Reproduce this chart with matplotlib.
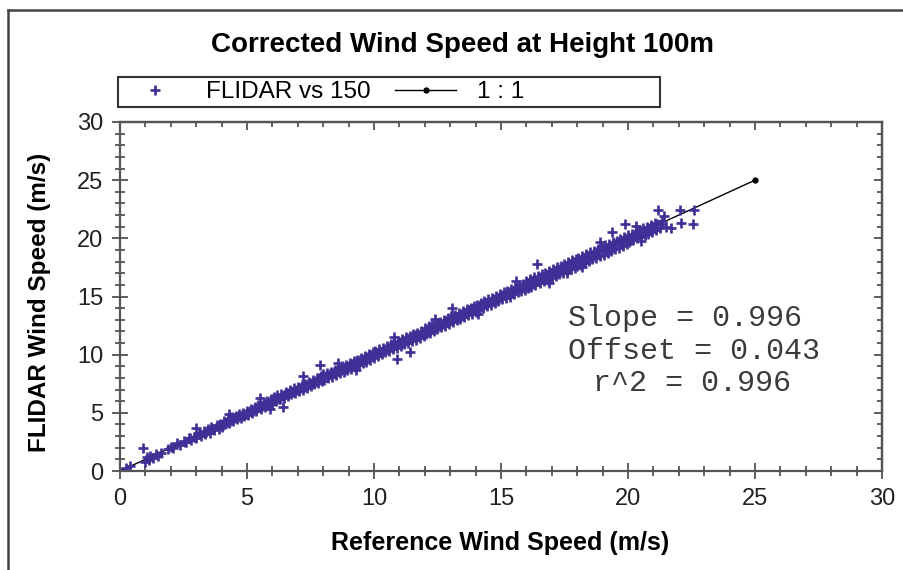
import matplotlib
matplotlib.use("Agg")
import matplotlib.pyplot as plt
from matplotlib.ticker import MultipleLocator, NullFormatter
from matplotlib.patches import Rectangle
from matplotlib.lines import Line2D

plt.rcParams['font.family'] = ['Liberation Sans', 'DejaVu Sans']

# reference (x) vs FLIDAR (y) wind speed
ref_speed = [
    0.25, 0.4, 0.9, 1.0, 1.05, 1.15, 1.2, 1.3, 1.4, 1.5, 1.6, 1.9, 2.0, 2.1,
    2.25, 2.35, 2.5, 2.6, 2.7, 2.8, 2.9, 3.0, 3.0, 3.1, 3.2, 3.3, 3.35, 3.45, 3.55, 3.6, 3.7, 3.8, 3.9, 3.95,
    4.0, 4.1, 4.15, 4.25, 4.3, 4.4, 4.45, 4.55, 4.6, 4.7, 4.75, 4.85, 4.9, 5.0, 5.05, 5.15, 5.2, 5.3, 5.35,
    5.45, 5.5, 5.55, 5.65, 5.7, 5.8, 5.85, 5.95,
    6.0, 6.05, 6.15, 6.2, 6.3, 6.35, 6.42, 6.45, 6.55, 6.6, 6.7, 6.75, 6.85, 6.9, 7.0, 7.05, 7.15, 7.2, 7.2,
    7.3, 7.35, 7.45, 7.5, 7.6, 7.65, 7.75, 7.8, 7.87, 7.9, 7.95,
    8.0, 8.05, 8.15, 8.2, 8.3, 8.35, 8.45, 8.5, 8.6, 8.65, 8.75, 8.8, 8.9, 8.95, 9.05, 9.1, 9.2, 9.25, 9.35,
    9.4, 9.5, 9.55, 9.65, 9.7, 9.8, 9.85, 9.95,
    10.0, 10.05, 10.15, 10.2, 10.3, 10.35, 10.45, 10.5, 10.6, 10.65, 10.75, 10.8, 10.9, 10.9, 10.95, 11.05,
    11.1, 11.2, 11.25, 11.35, 11.4, 11.4, 11.5, 11.55, 11.65, 11.7, 11.8, 11.85, 11.95,
    12.0, 12.05, 12.15, 12.2, 12.3, 12.35, 12.45, 12.5, 12.6, 12.65, 12.75, 12.8, 12.9, 12.95, 13.05, 13.07,
    13.1, 13.2, 13.25, 13.35, 13.4, 13.5, 13.55, 13.65, 13.7, 13.8, 13.85, 13.95,
    14.0, 14.05, 14.15, 14.2, 14.3, 14.35, 14.45, 14.5, 14.6, 14.65, 14.75, 14.8, 14.9, 14.95, 15.05, 15.1,
    15.2, 15.25, 15.35, 15.4, 15.5, 15.55, 15.65, 15.7, 15.8, 15.85, 15.95,
    16.0, 16.05, 16.15, 16.2, 16.3, 16.35, 16.4, 16.45, 16.55, 16.6, 16.7, 16.75, 16.85, 16.9, 17.0, 17.05,
    17.15, 17.2, 17.3, 17.35, 17.45, 17.5, 17.6, 17.65, 17.75, 17.8, 17.9, 17.95,
    18.0, 18.05, 18.15, 18.2, 18.3, 18.35, 18.45, 18.5, 18.6, 18.65, 18.75, 18.8, 18.9, 18.95, 19.05, 19.1,
    19.2, 19.25, 19.35, 19.37, 19.4, 19.5, 19.55, 19.65, 19.7, 19.8, 19.85, 19.9, 19.95,
    20.0, 20.05, 20.15, 20.2, 20.3, 20.35, 20.45, 20.5, 20.6, 20.65, 20.75, 20.8, 20.9, 20.95, 21.05, 21.1,
    21.2, 21.25, 21.35, 21.5, 21.7, 22.05, 22.1, 22.55, 22.6,
    # points near the middle of the band
    2.55, 2.75, 2.95, 3.15, 3.4, 3.65, 3.85, 4.05, 4.2, 4.35, 4.5, 4.65, 4.8, 4.95, 5.1, 5.25, 5.4, 5.6,
    5.75, 5.9, 6.1, 6.25, 6.4, 6.5, 6.65, 6.8, 6.95, 7.1, 7.25, 7.4, 7.55, 7.7, 7.85, 8.1, 8.25, 8.4,
    8.55, 8.7, 8.85, 9.0, 9.15, 9.3, 9.45, 9.6, 9.75, 9.9, 10.1, 10.25, 10.4, 10.55, 10.7, 10.85, 11.0,
    11.15, 11.3, 11.45, 11.6, 11.75, 11.9, 12.1, 12.25, 12.4, 12.55, 12.7, 12.85, 13.0, 13.15, 13.3,
    13.45, 13.6, 13.75, 13.9, 14.1, 14.25, 14.4, 14.55, 14.7, 14.85, 15.0, 15.15, 15.3, 15.45, 15.6,
    15.75, 15.9, 16.1, 16.25, 16.4, 16.5, 16.65, 16.8, 16.95, 17.1, 17.25, 17.4, 17.55, 17.7, 17.85,
    18.1, 18.25, 18.4, 18.55, 18.7, 18.85, 19.0, 19.15, 19.3, 19.45, 19.6, 19.75, 20.1, 20.25, 20.4,
    20.55, 20.7, 20.85, 21.0, 21.15, 21.3,
    # ragged edges
    4.3, 5.9, 8.6, 9.3, 10.8, 12.4, 14.1, 15.6, 16.9, 17.6, 18.2, 18.9, 20.3, 20.5, 21.4,
]
flidar_speed = [
    0.3, 0.45, 1.95, 0.8, 1.2, 0.95, 1.3, 1.1, 1.45, 1.25, 1.55, 1.85, 2.1, 1.95,
    2.4, 2.2, 2.6, 2.45, 2.85, 2.65, 2.95, 3.7, 2.85, 3.25, 3.0, 3.45, 3.15, 3.6, 3.3, 3.75, 3.5, 3.95, 3.65, 4.05,
    3.8, 4.3, 4.0, 4.45, 4.15, 4.6, 4.3, 4.75, 4.45, 4.9, 4.55, 5.0, 4.7, 5.2, 4.85, 5.35, 5.0, 5.5, 5.15,
    5.65, 6.3, 5.3, 5.85, 5.5, 6.0, 5.65, 6.15,
    5.8, 6.35, 6.0, 6.5, 6.15, 6.6, 5.5, 6.3, 6.8, 6.45, 6.95, 6.6, 7.1, 6.7, 7.25, 6.85, 7.4, 7.0, 8.2,
    7.5, 7.15, 7.65, 7.3, 7.85, 7.45, 8.0, 7.6, 9.08, 8.15, 7.7,
    8.3, 7.85, 8.45, 8.0, 8.55, 8.1, 8.7, 8.25, 8.85, 8.4, 9.0, 8.55, 9.15, 8.7, 9.3, 8.8, 9.45, 8.95, 9.55,
    9.1, 9.75, 9.25, 9.9, 9.4, 10.05, 9.55, 10.2,
    9.75, 10.3, 9.9, 10.45, 10.05, 10.6, 10.2, 10.75, 10.3, 10.9, 10.45, 11.05, 10.6, 9.6, 11.2, 10.75,
    11.35, 10.9, 11.5, 11.0, 11.6, 10.2, 11.15, 11.75, 11.3, 11.9, 11.45, 12.05, 11.6,
    12.3, 11.75, 12.45, 11.9, 12.6, 12.05, 12.75, 12.2, 12.85, 12.35, 13.0, 12.5, 13.15, 12.65, 13.3, 14.05,
    12.8, 13.45, 12.95, 13.6, 13.1, 13.75, 13.25, 13.9, 13.4, 14.05, 13.5, 14.2,
    13.7, 14.3, 13.85, 14.45, 14.0, 14.6, 14.15, 14.8, 14.3, 14.9, 14.45, 15.05, 14.6, 15.2, 14.75, 15.35,
    14.9, 15.5, 15.0, 15.65, 15.2, 15.8, 15.35, 15.95, 15.45, 16.1, 15.6,
    16.35, 15.7, 16.5, 15.85, 16.65, 16.0, 17.8, 16.75, 16.2, 16.9, 16.35, 17.05, 16.45, 17.2, 16.6, 17.35,
    16.75, 17.5, 16.9, 17.65, 17.05, 17.8, 17.2, 17.95, 17.35, 18.1, 17.45, 18.25,
    17.6, 18.35, 17.75, 18.5, 17.9, 18.65, 18.05, 18.8, 18.2, 18.95, 18.35, 19.1, 18.5, 19.25, 18.6, 19.4,
    18.75, 19.55, 18.9, 20.57, 19.65, 19.05, 19.8, 19.2, 19.95, 19.35, 20.1, 21.2, 19.5,
    20.25, 19.7, 20.4, 19.85, 20.55, 20.0, 20.7, 20.15, 20.85, 20.3, 21.0, 20.4, 21.15, 20.55, 21.3, 20.7,
    22.4, 20.85, 21.45, 21.0, 20.9, 22.45, 21.3, 21.25, 22.4,
    # points near the middle of the band
    2.5, 2.8, 2.9, 3.2, 3.35, 3.6, 3.9, 4.0, 4.25, 4.3, 4.55, 4.6, 4.85, 4.9, 5.15, 5.2, 5.45, 5.55,
    5.8, 5.85, 6.15, 6.2, 6.45, 6.6, 6.7, 6.75, 7.0, 7.15, 7.2, 7.5, 7.55, 7.75, 7.8, 8.15, 8.3, 8.4,
    8.6, 8.65, 8.9, 9.0, 9.2, 9.25, 9.5, 9.6, 9.8, 9.85, 10.15, 10.2, 10.45, 10.5, 10.75, 10.8, 11.05,
    11.1, 11.35, 11.4, 11.65, 11.7, 11.95, 12.05, 12.3, 12.35, 12.6, 12.65, 12.9, 12.95, 13.2, 13.25,
    13.5, 13.55, 13.8, 13.85, 14.15, 14.2, 14.45, 14.5, 14.75, 14.8, 15.05, 15.1, 15.35, 15.4, 15.65,
    15.7, 15.95, 16.05, 16.3, 16.35, 16.55, 16.6, 16.85, 16.9, 17.15, 17.2, 17.45, 17.5, 17.75, 17.8,
    18.05, 18.3, 18.35, 18.6, 18.65, 18.9, 18.95, 19.2, 19.25, 19.5, 19.55, 19.8, 20.05, 20.3, 20.35,
    20.6, 20.65, 20.9, 20.95, 21.2, 21.25,
    # ragged edges
    4.9, 5.3, 9.3, 8.7, 11.5, 13.05, 13.5, 16.3, 16.2, 17.0, 17.5, 19.7, 21.1, 19.8, 21.9,
]
one_to_one = [0, 25]

fig = plt.figure(figsize=(9.04, 5.7), dpi=100)
W, H = 904, 570
ax = fig.add_axes([120 / W, 1 - 471 / H, 762 / W, 349 / H])

line, = ax.plot(one_to_one, one_to_one, color="black", lw=1.0, marker="o", ms=3.5,
                label="1 : 1", zorder=1)
pts, = ax.plot(ref_speed, flidar_speed, ls="none", marker="+", ms=7, mew=1.9,
               color="#3f2f96", label="FLIDAR vs 150", zorder=2)

ax.set_xlim(0, 30)
ax.set_ylim(0, 30)
for a in (ax.xaxis, ax.yaxis):
    a.set_major_locator(MultipleLocator(5))
    a.set_minor_locator(MultipleLocator(1))
ax.tick_params(which="both", direction="inout", width=1.2, color="#444444",
               labelcolor="#222222", labelsize=17, top=False, right=False)
ax.tick_params(which="major", length=12)
ax.tick_params(which="minor", length=7)
ax.tick_params(axis="x", pad=6)
ax.tick_params(axis="y", pad=6)
for s in ax.spines.values():
    s.set_color("#555555")
    s.set_linewidth(1.6)

secx = ax.secondary_xaxis("top")
secy = ax.secondary_yaxis("right")
for sa, a in ((secx, secx.xaxis), (secy, secy.yaxis)):
    a.set_major_locator(MultipleLocator(5))
    a.set_minor_locator(MultipleLocator(1))
    a.set_major_formatter(NullFormatter())
    sa.tick_params(which="both", direction="in", width=1.2, color="#444444")
    sa.tick_params(which="major", length=6)
    sa.tick_params(which="minor", length=3.5)
    for s in sa.spines.values():
        s.set_color("#555555")
        s.set_linewidth(1.6)

stats_font = dict(transform=ax.transAxes, family="Liberation Mono", fontsize=21.6,
                  color="#3a3a3a", ha="left", va="center")
ax.text(0.588, 0.438, "Slope = 0.996", **stats_font)
ax.text(0.588, 0.344, "Offset = 0.043", **stats_font)
ax.text(0.621, 0.252, "r^2 = 0.996", **stats_font)

fig.text(463 / W, 1 - 45 / H, "Corrected Wind Speed at Height 100m", fontsize=20,
         fontweight="bold", ha="center", va="center")
fig.text(500 / W, 1 - 543 / H, "Reference Wind Speed (m/s)", fontsize=18,
         fontweight="bold", ha="center", va="center")
fig.text(40 / W, 1 - 302 / H, "FLIDAR Wind Speed (m/s)", fontsize=17.5,
         fontweight="bold", ha="center", va="center", rotation=90)

# legend box above the plot
fig.add_artist(Rectangle((118 / W, 1 - 107 / H), 542 / W, 30 / H, transform=fig.transFigure,
                         fill=False, ec="#333333", lw=1.5))
fig.legend(handles=[pts, line], labels=["FLIDAR vs 150", "1 : 1"], loc="center left",
           bbox_to_anchor=(125 / W, 1 - 92 / H), ncol=2, frameon=False, fontsize=17.5,
           handlelength=2.5, handletextpad=0.85, columnspacing=1.0, borderpad=0,
           borderaxespad=0, numpoints=1)

# outer frame of the figure
fig.add_artist(Line2D([8 / W, 8 / W], [0, 1 - 10 / H], transform=fig.transFigure,
                      color="#444444", lw=1.8))
fig.add_artist(Line2D([8 / W, 1], [1 - 10 / H, 1 - 10 / H], transform=fig.transFigure,
                      color="#444444", lw=1.8))

fig.savefig("out.png", dpi=100)
